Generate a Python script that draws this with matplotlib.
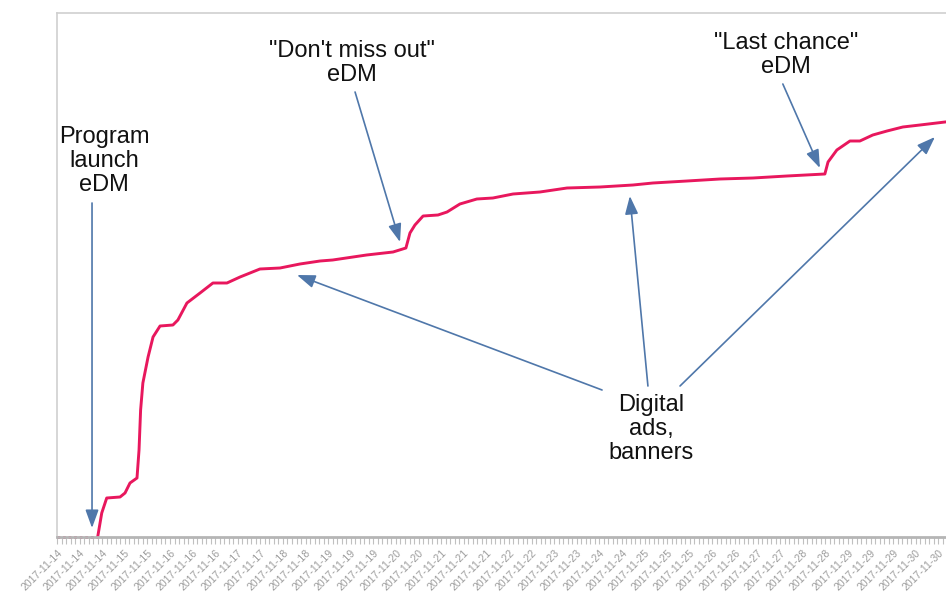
import matplotlib
matplotlib.use("Agg")
import matplotlib.pyplot as plt
import numpy as np

plt.rcParams['font.family'] = ['Liberation Sans', 'DejaVu Sans']

# hours since 2017-11-14 00:00, cumulative sign-ups (arbitrary units)
hours = [18.0, 19.8, 22.0, 27.9, 30.1, 32.3, 35.4, 36.3, 37.0, 38.0, 40.3, 42.5,
         45.6, 51.3, 53.5, 57.5, 63.3, 69.0, 75.2, 81.0, 89.8, 98.7, 107.5, 116.4,
         122.0, 137.0, 148.7, 154.4, 156.2, 158.4, 162.0, 168.6, 172.6, 178.3,
         185.8, 192.9, 201.8, 213.7, 225.7, 240.3, 254.9, 263.7, 278.8, 293.4,
         308.0, 323.0, 339.8, 341.2, 345.1, 350.9, 355.3, 361.0, 367.3, 374.3,
         381.9, 393.0]
signups = [0, 24, 39, 40, 44, 54, 59, 87, 127, 154, 180, 200,
           211, 212, 217, 234, 244, 254, 254, 260, 268, 269, 273, 276,
           277, 282, 285, 289, 304, 312, 321, 322, 325, 333,
           338, 339, 343, 345, 349, 350, 352, 354, 356, 358,
           359, 361, 363, 375, 387, 396, 396, 402, 406, 410,
           412, 415]
pre_launch_hours = [0, 18.0]
pre_launch_vals = [0, 0]

tick_days = [14, 14, 14, 15, 15, 16, 16, 16, 17, 17, 18, 18, 19, 19, 19, 20, 20,
             21, 21, 21, 22, 22, 23, 23, 24, 24, 25, 25, 25, 26, 26, 27, 27, 28,
             28, 29, 29, 29, 30, 30]
tick_labels = ["2017-11-%02d" % d for d in tick_days]
tick_hours = [10 * i for i in range(len(tick_labels))]

fig = plt.figure(figsize=(9.46, 5.96), dpi=100)
ax = fig.add_axes([57 / 946, 59 / 596, 903 / 946, 524 / 596])
ax.set_xlim(0, 399.6)
ax.set_ylim(0, 524)

pink = '#e8175d'
ax.plot(hours, signups, color=pink, lw=2.1, solid_joinstyle='round')
ax.plot(pre_launch_hours, pre_launch_vals, color=pink, lw=2.0, ls=(0, (1, 1)), clip_on=False)

for side in ['top', 'left', 'right']:
    ax.spines[side].set_color('#cfcfcf')
    ax.spines[side].set_linewidth(1.2)
ax.spines['bottom'].set_color('#b5b5b5')
ax.spines['bottom'].set_linewidth(2)
ax.set_yticks([])

ax.set_xticks(tick_hours)
ax.set_xticklabels(tick_labels, rotation=45, ha='right', va='top',
                   rotation_mode='anchor', fontsize=7.6, color='#9c9c9c')
ax.set_xticks(np.arange(0, 400, 2), minor=True)
ax.tick_params(axis='x', which='both', direction='out', length=5,
               color='#c0c0c0', width=0.8, pad=3)

txt = dict(fontsize=17, ha='center', va='center', color='#111111', linespacing=1.12)
ax.text(20.8, 376, "Program\nlaunch\neDM", **txt)
ax.text(130.5, 474, "\"Don't miss out\"\neDM", **txt)
ax.text(322.6, 482, "\"Last chance\"\neDM", **txt)
ax.text(262.8, 108, "Digital\nads,\nbanners", **txt)

arrow_col = '#4f77aa'
arrows = [((15.5, 334), (15.5, 9)),
          ((131.9, 445), (151.8, 295)),
          ((321.2, 453), (337.6, 369)),
          ((241.2, 147), (106.2, 262)),
          ((261.5, 151), (253.5, 341)),
          ((275.7, 151), (388.5, 400))]
for start, tip in arrows:
    ax.annotate('', xy=tip, xytext=start,
                arrowprops=dict(arrowstyle='-|>,head_length=1.1,head_width=0.4',
                                mutation_scale=10, color=arrow_col, lw=1.2,
                                shrinkA=0, shrinkB=0))

fig.savefig('out.png', dpi=100)
